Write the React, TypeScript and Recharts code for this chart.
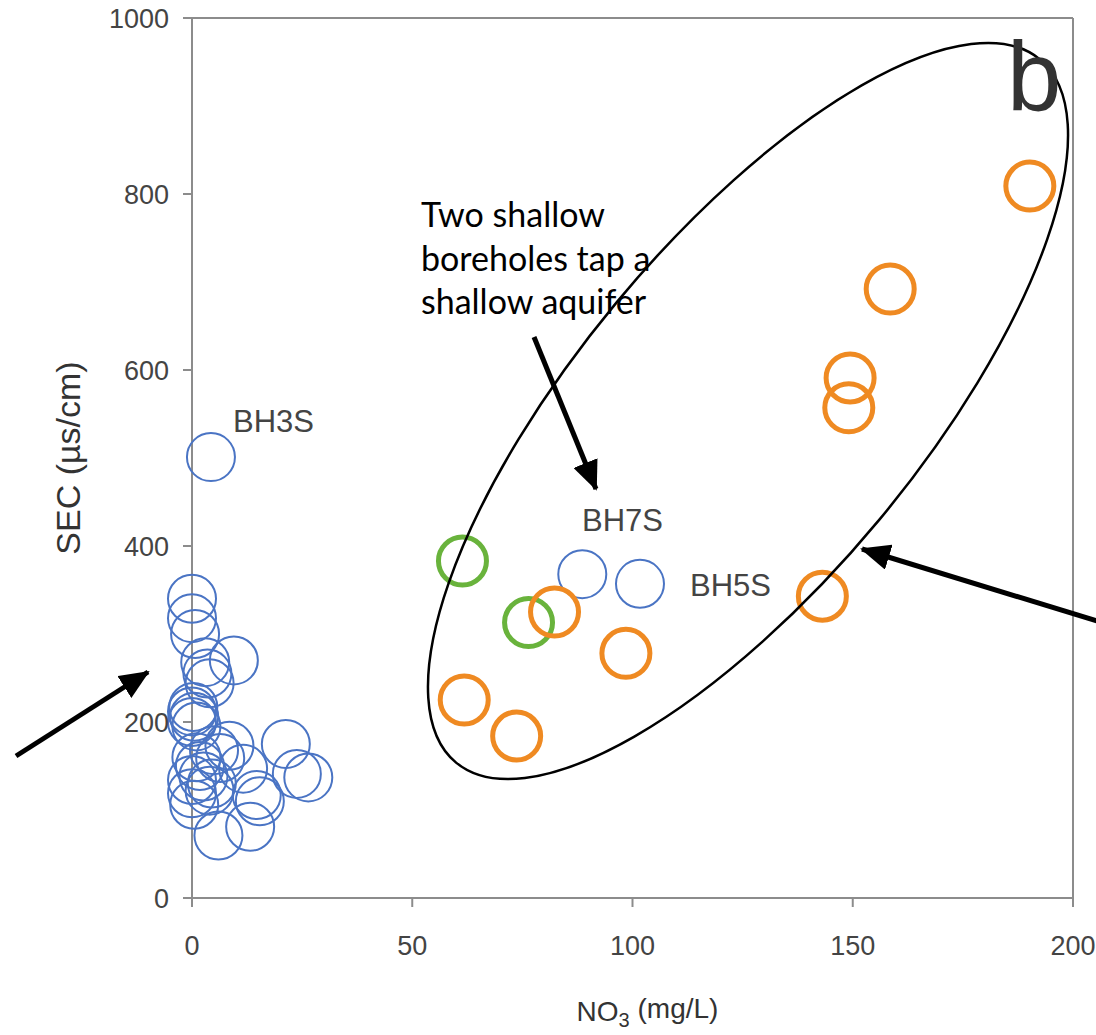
import React from 'react';
import { ScatterChart, Scatter, XAxis, YAxis, ReferenceLine, Label } from 'recharts';

// NO3 (mg/L) vs SEC (µs/cm)
const blueNO3 = [0, 0, 0.7, 9.5, 3, 3.5, 4, 0, 0.5, 0, 1, 0.3, 1, 5, 8.5, 21.3, 26.4, 23.8, 11.6, 14.7, 15.4, 13.2, 6, 0, 0, 0.5, 2.6, 4, 4.5, 1.8, 6.4, 4.3, 88.6, 101.7];
const blueSEC = [340, 318, 300, 270, 268, 255, 244, 212, 206, 200, 195, 217, 160, 168, 173, 175, 137, 141, 147, 117, 110, 81, 71, 134, 119, 106, 138, 122, 130, 150, 159, 501, 368, 357];
const orangeNO3 = [61.8, 73.7, 82.3, 98.5, 143.1, 149.1, 149.4, 158.5, 190.2];
const orangeSEC = [225, 184, 325, 278, 343, 557, 591, 692, 809];
const greenNO3 = [61.4, 76.4];
const greenSEC = [383, 313];

const xTicks = [0, 50, 100, 150, 200];
const yTicks = [0, 200, 400, 600, 800, 1000];

const toPoints = (xs: number[], ys: number[]) => xs.map((x, i) => ({ x, y: ys[i] }));

const ring = (color: string, w: number) => (props: any) => (
  <circle cx={props.cx} cy={props.cy} r={24} fill="none" stroke={color} strokeWidth={w} />
);

const tickStyle = { fontSize: 27, fill: '#444', fontFamily: 'Liberation Sans, Arial, sans-serif' };

const XTitle = (props: any) => {
  const vb = props.viewBox || {};
  const cx = vb.x + vb.width / 2 + 15;
  return (
    <text x={cx} y={1021} textAnchor="middle" fontSize={28} fill="#333" fontFamily="Liberation Sans, Arial, sans-serif">
      NO<tspan fontSize={20} dy={6}>3</tspan>
      <tspan dy={-9}> (mg/L)</tspan>
    </text>
  );
};

export default function App() {
  return (
    <div style={{ position: 'absolute', left: 0, top: 0, width: 1096, height: 1035, overflow: 'hidden', background: '#fff' }}>
      <ScatterChart width={1120} height={1035} margin={{ top: 18, right: 47, bottom: 0, left: 0 }}>
        <XAxis
          type="number"
          dataKey="x"
          domain={[0, 200]}
          ticks={xTicks}
          height={137}
          tick={tickStyle}
          tickSize={9}
          tickMargin={29}
          axisLine={{ stroke: '#8c8c8c', strokeWidth: 2 }}
          tickLine={{ stroke: '#8c8c8c', strokeWidth: 2 }}
        >
          <Label content={<XTitle />} />
        </XAxis>
        <YAxis
          type="number"
          dataKey="y"
          domain={[0, 1000]}
          ticks={yTicks}
          width={192}
          tick={tickStyle}
          tickSize={9}
          tickMargin={14}
          axisLine={{ stroke: '#8c8c8c', strokeWidth: 2 }}
          tickLine={{ stroke: '#8c8c8c', strokeWidth: 2 }}
        >
          <Label
            value="SEC (µs/cm)"
            angle={-90}
            position="insideLeft"
            offset={68}
            style={{ fontSize: 34, fill: '#333', fontFamily: 'Liberation Sans, Arial, sans-serif', textAnchor: 'middle' }}
          />
        </YAxis>
        <ReferenceLine y={1000} stroke="#8c8c8c" strokeWidth={2} />
        <ReferenceLine x={200} stroke="#8c8c8c" strokeWidth={2} />
        <Scatter data={toPoints(blueNO3, blueSEC)} shape={ring('#4a74c4', 2)} isAnimationActive={false} />
        <Scatter data={toPoints(greenNO3, greenSEC)} shape={ring('#69b33c', 5)} isAnimationActive={false} />
        <Scatter data={toPoints(orangeNO3, orangeSEC)} shape={ring('#ef8a22', 5)} isAnimationActive={false} />
      </ScatterChart>
      <svg width={1096} height={1035} style={{ position: 'absolute', left: 0, top: 0, pointerEvents: 'none' }}>
        <defs>
          <marker id="head" markerUnits="userSpaceOnUse" markerWidth={30} markerHeight={26} refX={28} refY={13} orient="auto">
            <path d="M0,0 L30,13 L0,26 Z" fill="#000" />
          </marker>
        </defs>
        <ellipse cx={748} cy={411} rx={457} ry={170.5} transform="rotate(-50.3 748 411)" fill="none" stroke="#000" strokeWidth={2.5} />
        <line x1={534} y1={337} x2={596} y2={489} stroke="#000" strokeWidth={5} markerEnd="url(#head)" />
        <line x1={16} y1={756} x2={148} y2={672} stroke="#000" strokeWidth={5} markerEnd="url(#head)" />
        <line x1={1110} y1={625} x2={862} y2={549} stroke="#000" strokeWidth={5} markerEnd="url(#head)" />
        <g fontFamily="Lato, sans-serif" fontSize={34} fill="#000">
          <text x={421} y={227}>Two shallow</text>
          <text x={421} y={271}>boreholes tap a</text>
          <text x={421} y={314}>shallow aquifer</text>
        </g>
        <g fontFamily="Liberation Sans, Arial, sans-serif" fontSize={31} fill="#444">
          <text x={233} y={432}>BH3S</text>
          <text x={582} y={531}>BH7S</text>
          <text x={690} y={596}>BH5S</text>
        </g>
        <text x={1007} y={110} fontFamily="Liberation Sans, Arial, sans-serif" fontSize={98} fill="#333">b</text>
      </svg>
    </div>
  );
}
